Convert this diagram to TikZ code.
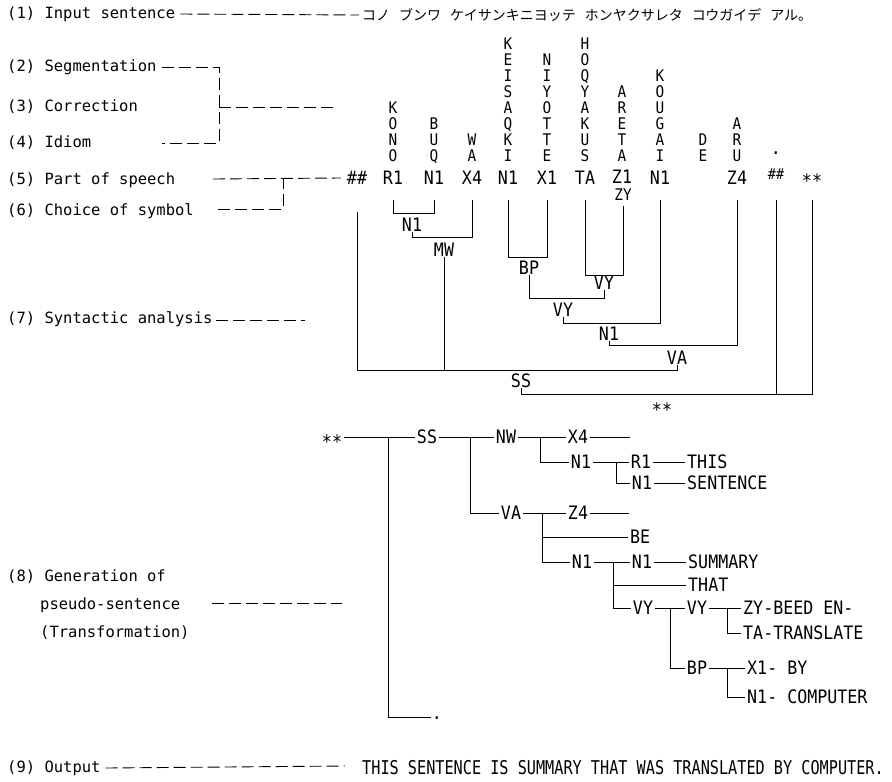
\documentclass[tikz,border=0pt]{standalone}
\usepackage{fontspec}
\setmainfont{DejaVu Sans Mono}
\newfontfamily\labf{DejaVu Sans Mono}
\newfontfamily\tokf[FakeStretch=0.9]{DejaVu Sans Mono}
\newfontfamily\outf[FakeStretch=0.8]{DejaVu Sans Mono}
\newfontfamily\jpf{Noto Sans CJK JP}
\usetikzlibrary{calc}
\newcommand\jsp{\hspace{9pt}}
\newcommand\stkfont{\tokf\fontsize{16}{16}\selectfont\lineskiplimit=-100pt\relax\lineskip=0pt\relax}
\begin{document}
\begin{tikzpicture}[x=1pt,y=-1pt,
  lab/.style={anchor=west,inner sep=0pt,font=\labf\fontsize{15.5}{16}\selectfont},
  tok/.style={inner sep=0pt,font=\tokf\fontsize{18.5}{16}\selectfont},
  stk/.style={inner sep=0pt,anchor=base,align=center,font=\stkfont},
  astb/.style={inner sep=0pt,anchor=base,font=\tokf\fontsize{18.5}{16}\selectfont},
  tr/.style={inner sep=2pt,font=\tokf\fontsize{18.5}{16}\selectfont},
  trw/.style={tr,anchor=west},
  ln/.style={line width=0.8pt},
  dsh/.style={line width=0.9pt,dash pattern=on 12pt off 5pt},
]
\useasboundingbox (0,0) rectangle (892,782);
\fill[white] (0,0) rectangle (892,782);

% ---------- left labels ----------
\node[lab] (lab1) at (7,14) {(1) Input sentence};
\node[lab] (lab2) at (7,67) {(2) Segmentation};
\node[lab] (lab3) at (7,107) {(3) Correction};
\node[lab] (lab4) at (7,143) {(4) Idiom};
\node[lab] (lab5) at (7,180) {(5) Part of speech};
\node[lab] (lab6) at (7,211) {(6) Choice of symbol};
\node[lab] (lab7) at (7,319) {(7) Syntactic analysis};
\node[lab] (lab8a) at (7,577) {(8) Generation of};
\node[lab] (lab8b) at (40,605) {pseudo-sentence};
\node[lab] (lab8c) at (40,633) {(Transformation)};
\node[lab] (lab9) at (7,768) {(9) Output};

% ---------- input sentence ----------
\node[anchor=west,inner sep=0pt,font=\jpf\fontsize{14}{14}\selectfont] (jp) at (362,15)
  {コノ\jsp ブンワ\jsp ケイサンキニヨッテ\jsp ホンヤクサレタ\jsp コウガイデ\jsp アル。};

% ---------- tokens (part of speech row) ----------
\node[tok] (hh) at (357,178) {\#\#};
\node[tok] (r1) at (393,178) {R1};
\node[tok] (n1a) at (434,178) {N1};
\node[tok] (x4) at (472,178) {X4};
\node[tok] (n1b) at (508,178) {N1};
\node[tok] (x1) at (547,178) {X1};
\node[tok] (ta) at (585,178) {TA};
\node[tok] (z1) at (622,177) {Z1};
\node[tok,font=\tokf\fontsize{16}{16}\selectfont] (zy) at (623,195) {ZY};
\node[tok] (n1c) at (660,178) {N1};
\node[tok] (z4) at (737,178) {Z4};
\node[tok,font=\tokf\fontsize{15}{15}\selectfont] (hh2) at (776,174) {\#\#};
\node[astb] (ast) at (812,187) {**};
\node[tok] (dot1) at (776,153) {.};

% ---------- vertical romanisations ----------
\node[stk] (kono) at (393,161) {K\\O\\N\\O};
\node[stk] (buq) at (434,161) {B\\U\\Q};
\node[stk] (wa) at (472,161) {W\\A};
\node[stk] (keis) at (508,161) {K\\E\\I\\S\\A\\Q\\K\\I};
\node[stk] (niyo) at (547,161) {N\\I\\Y\\O\\T\\T\\E};
\node[stk] (hoq) at (585,161) {H\\O\\Q\\Y\\A\\K\\U\\S};
\node[stk] (aret) at (622,161) {A\\R\\E\\T\\A};
\node[stk] (koug) at (660,161) {K\\O\\U\\G\\A\\I};
\node[stk] (de) at (703,161) {D\\E};
\node[stk] (aru) at (737,161) {A\\R\\U};

% ---------- syntactic analysis labels ----------
\node[tok] (sN1a) at (412,225) {N1};
\node[tok] (mw) at (444,250) {MW};
\node[tok] (bp) at (529,268) {BP};
\node[tok] (vy1) at (604,283) {VY};
\node[tok] (vy2) at (563,310) {VY};
\node[tok] (sN1b) at (609,334) {N1};
\node[tok] (va) at (677,358) {VA};
\node[tok] (ssn) at (521,381) {SS};
\node[astb] (ast1) at (662,416) {**};

\coordinate (top) at (0,200);
\coordinate (ssl) at (677,370);
\coordinate (sse) at (ast |- 0,394);

\draw[ln] (r1 |- top) |- ($(n1a.south)+(0,28)$) -- (n1a |- top);
\draw[ln] (sN1a.south) |- ($(x4.south)+(0,52)$) -- (x4 |- top);
\draw[ln] (mw.south) -- (mw.south |- ssl);
\draw[ln] (hh.south) ++(0,27) |- (ssl) -- (va.south);
\draw[ln] (n1b |- top) |- ($(x1.south)+(0,72)$) -- (x1 |- top);
\draw[ln] (ta |- top) |- ($(zy.south)+(0,74)$) -- ($(zy.south)+(0,5)$);
\draw[ln] (bp.south) |- ($(vy1.south)+(0,8)$) -- (vy1.south);
\draw[ln] (vy2.south) |- ($(n1c.south)+(0,138)$) -- (n1c |- top);
\draw[ln] (sN1b.south) |- ($(z4.south)+(0,160)$) -- (z4 |- top);
\draw[ln] (ssn.south) |- (sse) -- (ast |- top);
\draw[ln] (hh2 |- top) -- (hh2 |- sse);

% ---------- dashed leaders ----------
\coordinate (b3) at (219,107);
\coordinate (b4) at (219,143);
\coordinate (e3) at (333,107);
\coordinate (e4) at (162,143);
\coordinate (s5) at (213,179);
\coordinate (s6) at (218,209);
\coordinate (c6) at (283,179);
\coordinate (s7) at (216,320);
\coordinate (e7) at (305,320);
\coordinate (s8) at (212,603);
\coordinate (e8) at (342,603);
\coordinate (e9) at (345,766);
\draw[dsh] ([xshift=5pt]lab1.east) -- ([xshift=-3pt]jp.west);
\draw[dsh] ([xshift=5pt]lab2.east) -| (b4) -- (e4);
\draw[dsh] (b3) -- (e3);
\draw[dsh] (s5) -- ([xshift=-6pt]hh.west);
\draw[dsh] (s6) -| (c6);
\draw[dsh] (s7) -- (e7);
\draw[dsh] (s8) -- (e8);
\draw[dsh] ([xshift=5pt]lab9.east) -- (e9);

% ---------- generation tree ----------
\node[astb] (ast2) at (332,448) {**};
\node[tr] (ss2) at (427,437) {SS};
\node[tr] (nw) at (506,437) {NW};
\node[tr] (x4t) at (578,437) {X4};
\node[tr] (n1t1) at (581,462) {N1};
\node[tr] (r1t) at (641,462) {R1};
\node[trw] (this) at (685,462) {THIS};
\node[tr] (n1t2) at (642,483) {N1};
\node[trw] (sent) at (685,483) {SENTENCE};
\node[tr] (va2) at (511,513) {VA};
\node[tr] (z4t) at (578,513) {Z4};
\node[trw] (be) at (628,537) {BE};
\node[tr] (n1t3) at (582,562) {N1};
\node[tr] (n1t4) at (642,562) {N1};
\node[trw] (summ) at (686,562) {SUMMARY};
\node[trw] (that) at (686,585) {THAT};
\node[tr] (vyt1) at (643,608) {VY};
\node[tr] (vyt2) at (697,608) {VY};
\node[trw] (zyb) at (741,608) {ZY-BEED EN-};
\node[trw] (tat) at (741,633) {TA-TRANSLATE};
\node[tr] (bpt) at (697,668) {BP};
\node[trw] (x1b) at (745,668) {X1- BY};
\node[trw] (n1cmp) at (745,697) {N1- COMPUTER};
\node[tok] (dot2) at (437,718) {.};

\coordinate (x4e) at (630,437);
\coordinate (z4e) at (629,513);
\coordinate (j0) at (388,437);
\coordinate (j1) at (470,437);
\coordinate (j2) at (540,437);
\coordinate (j3) at (616,462);
\coordinate (j4) at (542,513);
\coordinate (j5) at (613,562);
\coordinate (j6) at (670,608);
\coordinate (j7) at (727,608);
\coordinate (j8) at (727,668);
\coordinate (dend) at (431,717);

\draw[ln] ([xshift=2pt]ast2.east |- ss2.west) -- (ss2.west);
\draw[ln] (j0) |- (dend);
\draw[ln] (ss2) -- (nw);
\draw[ln] (j1) |- (va2.west);
\draw[ln] (nw) -- (x4t);
\draw[ln] (x4t) -- (x4e);
\draw[ln] (j2) |- (n1t1.west);
\draw[ln] (n1t1) -- (r1t);
\draw[ln] (r1t) -- (this);
\draw[ln] (j3) |- (n1t2.west);
\draw[ln] (n1t2) -- (sent);
\draw[ln] (va2) -- (z4t);
\draw[ln] (z4t) -- (z4e);
\draw[ln] (j4) |- (n1t3.west);
\draw[ln] (j4 |- be.west) -- (be.west);
\draw[ln] (n1t3) -- (n1t4);
\draw[ln] (n1t4) -- (summ);
\draw[ln] (j5) |- (vyt1.west);
\draw[ln] (j5 |- that.west) -- (that.west);
\draw[ln] (vyt1) -- (vyt2);
\draw[ln] (j6) |- (bpt.west);
\draw[ln] (vyt2) -- (zyb);
\draw[ln] (j7) |- (tat.west);
\draw[ln] (bpt) -- (x1b);
\draw[ln] (j8) |- (n1cmp.west);

% ---------- output ----------
\node[anchor=west,inner sep=0pt,font=\outf\fontsize{19}{19}\selectfont] (out) at (362,768)
  {THIS SENTENCE IS SUMMARY THAT WAS TRANSLATED BY COMPUTER.};
\end{tikzpicture}
\end{document}
